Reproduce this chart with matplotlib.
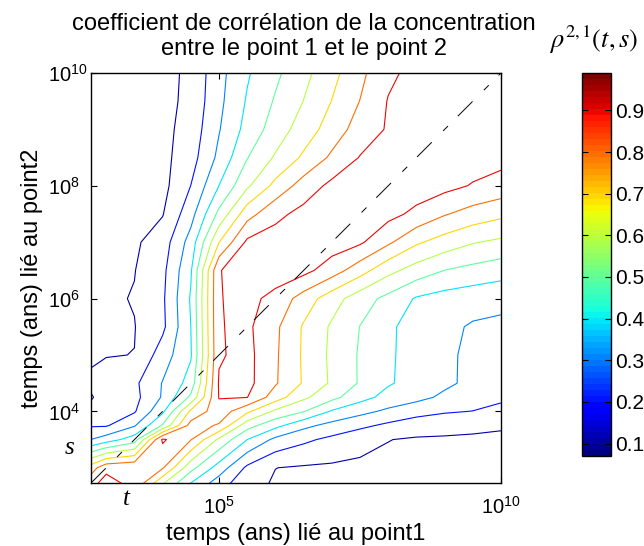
import matplotlib
matplotlib.use("Agg")
import matplotlib.pyplot as plt
from matplotlib.colors import Normalize
from matplotlib.cm import ScalarMappable
import matplotlib.transforms as mtransforms

plt.rcParams["font.family"] = ["Liberation Sans", "DejaVu Sans"]
plt.rcParams["mathtext.fontset"] = "custom"
plt.rcParams["mathtext.rm"] = "Liberation Sans"
plt.rcParams["mathtext.it"] = "Liberation Sans:italic"
plt.rcParams["lines.scale_dashes"] = False

# grid nodes, log10 of the time in years
log_t = [2.7, 3.0, 3.5, 4.0, 4.5, 5.0, 5.5, 6.0, 6.5, 7.0, 7.5, 8.0, 8.5, 9.0, 9.5, 10.0]
log_s = [2.7, 3.0, 3.5, 3.75, 4.0, 4.25, 4.5, 5.0, 5.5, 6.0, 6.5, 7.0, 7.5, 8.0, 8.5, 9.0, 9.5, 10.0]

# rho(t, s), one row per log_s value
rho = [
    [0.86, 0.95, 0.87, 0.595, 0.385, 0.24, 0.129, 0.09, 0.085, 0.08, 0.078, 0.076, 0.075, 0.075, 0.073, 0.072],
    [0.74, 0.87, 0.89, 0.81, 0.533, 0.356, 0.18, 0.101, 0.09, 0.085, 0.082, 0.08, 0.078, 0.077, 0.075, 0.074],
    [0.296, 0.35, 0.45, 0.915, 0.805, 0.58, 0.4, 0.276, 0.22, 0.176, 0.131, 0.102, 0.09, 0.088, 0.085, 0.08],
    [0.19, 0.19, 0.29, 0.51, 0.84, 0.79, 0.54, 0.43, 0.327, 0.268, 0.223, 0.18, 0.147, 0.134, 0.123, 0.112],
    [0.115, 0.15, 0.19, 0.38, 0.72, 0.86, 0.72, 0.58, 0.505, 0.39, 0.33, 0.28, 0.236, 0.21, 0.198, 0.185],
    [0.09, 0.13, 0.17, 0.31, 0.52, 0.905, 0.902, 0.75, 0.62, 0.53, 0.436, 0.367, 0.33, 0.28, 0.25, 0.21],
    [0.11, 0.13, 0.18, 0.305, 0.44, 0.91, 0.93, 0.81, 0.69, 0.585, 0.49, 0.41, 0.364, 0.32, 0.275, 0.225],
    [0.09, 0.097, 0.101, 0.25, 0.39, 0.89, 0.93, 0.814, 0.686, 0.58, 0.49, 0.413, 0.365, 0.322, 0.275, 0.252],
    [0.075, 0.085, 0.097, 0.178, 0.40, 0.895, 0.92, 0.82, 0.689, 0.586, 0.498, 0.415, 0.365, 0.323, 0.29, 0.28],
    [0.075, 0.085, 0.105, 0.184, 0.41, 0.895, 0.93, 0.869, 0.756, 0.644, 0.545, 0.472, 0.39, 0.36, 0.34, 0.327],
    [0.07, 0.075, 0.097, 0.174, 0.388, 0.895, 0.95, 0.955, 0.93, 0.85, 0.743, 0.63, 0.558, 0.499, 0.47, 0.443],
    [0.07, 0.07, 0.085, 0.149, 0.341, 0.698, 0.92, 0.945, 0.955, 0.95, 0.915, 0.818, 0.715, 0.657, 0.607, 0.58],
    [0.07, 0.07, 0.075, 0.095, 0.262, 0.526, 0.76, 0.874, 0.93, 0.95, 0.96, 0.93, 0.877, 0.808, 0.76, 0.724],
    [0.07, 0.07, 0.07, 0.07, 0.201, 0.401, 0.583, 0.729, 0.844, 0.925, 0.94, 0.96, 0.95, 0.93, 0.893, 0.863],
    [0.07, 0.07, 0.07, 0.072, 0.159, 0.324, 0.496, 0.612, 0.717, 0.818, 0.905, 0.94, 0.975, 0.965, 0.945, 0.93],
    [0.07, 0.07, 0.07, 0.072, 0.14, 0.294, 0.434, 0.547, 0.647, 0.745, 0.844, 0.91, 0.95, 0.98, 0.965, 0.955],
    [0.07, 0.07, 0.07, 0.07, 0.125, 0.276, 0.41, 0.51, 0.602, 0.702, 0.802, 0.905, 0.94, 0.965, 0.985, 0.98],
    [0.07, 0.07, 0.07, 0.07, 0.12, 0.268, 0.389, 0.48, 0.57, 0.669, 0.775, 0.88, 0.93, 0.96, 0.98, 0.99],
]

levels = [0.1, 0.2, 0.3, 0.4, 0.5, 0.6, 0.7, 0.8, 0.9]
rho_min, rho_max = 0.07, 0.99
axis_lo, axis_hi = 2.73, 10.0
x_ticks = [5, 10]
y_ticks = [4, 6, 8, 10]
cbar_ticks = [0.1, 0.2, 0.3, 0.4, 0.5, 0.6, 0.7, 0.8, 0.9]
ts_pos = 3.35  # where the t and s marks sit on the axes

fig = plt.figure(figsize=(6.44, 5.46), dpi=100)
ax = fig.add_axes([91 / 644, 63 / 546, 410 / 644, 410 / 546])

cmap = plt.get_cmap("jet", 64)
norm = Normalize(rho_min, rho_max)
ax.contour(log_t, log_s, rho, levels=levels, cmap=cmap, norm=norm, linewidths=0.8)

# line t = s
ax.plot([axis_lo, axis_hi], [axis_lo, axis_hi], color="black", lw=0.7,
        linestyle=(0, (15, 11.5, 5, 10)))

ax.set_xlim(axis_lo, axis_hi)
ax.set_ylim(axis_lo, axis_hi)
ax.set_xticks(x_ticks)
ax.set_xticklabels([rf"$10^{{{k}}}$" for k in x_ticks])
ax.set_yticks(y_ticks)
ax.set_yticklabels([rf"$10^{{{k}}}$" for k in y_ticks])
ax.tick_params(direction="in", top=True, right=True, length=4, labelsize=14.5)
ax.tick_params(axis="x", pad=9)
ax.tick_params(axis="y", pad=31)
for lab in ax.get_yticklabels():
    lab.set_horizontalalignment("left")
for sp in ax.spines.values():
    sp.set_linewidth(1.0)

ax.set_xlabel("temps (ans) lié au point1", fontsize=17)
ax.xaxis.set_label_coords(0.5, -0.098)
ax.set_ylabel("temps (ans) lié au point2", fontsize=17)
ax.yaxis.set_label_coords(-0.118, 0.5)
ax.set_title("coefficient de corrélation de la concentration\nentre le point 1 et le point 2",
             fontsize=17, linespacing=1.2, pad=13, x=0.52)

tx = mtransforms.blended_transform_factory(ax.transData, ax.transAxes)
ty = mtransforms.blended_transform_factory(ax.transAxes, ax.transData)
ax.text(ts_pos, -0.038, "t", transform=tx, ha="center", va="center",
        fontsize=18, family="Liberation Serif", style="italic")
ax.text(-0.052, ts_pos, "s", transform=ty, ha="center", va="center",
        fontsize=18, family="Liberation Serif", style="italic")

cax = fig.add_axes([582 / 644, 90 / 546, 29 / 644, 383 / 546])
cb = fig.colorbar(ScalarMappable(norm=norm, cmap=cmap), cax=cax, ticks=cbar_ticks)
cb.ax.tick_params(direction="in", left=True, right=True, length=4, labelsize=15, pad=3)
cb.ax.set_yticklabels([f"{v:.1f}" for v in cbar_ticks])
cb.outline.set_linewidth(1.0)
fig.text(594 / 644, 1 - 40 / 546, r"$\rho^{2,1}\left(t,s\right)$", ha="center", va="center",
         fontsize=19, math_fontfamily="stix")

fig.savefig("out.png", dpi=100)
